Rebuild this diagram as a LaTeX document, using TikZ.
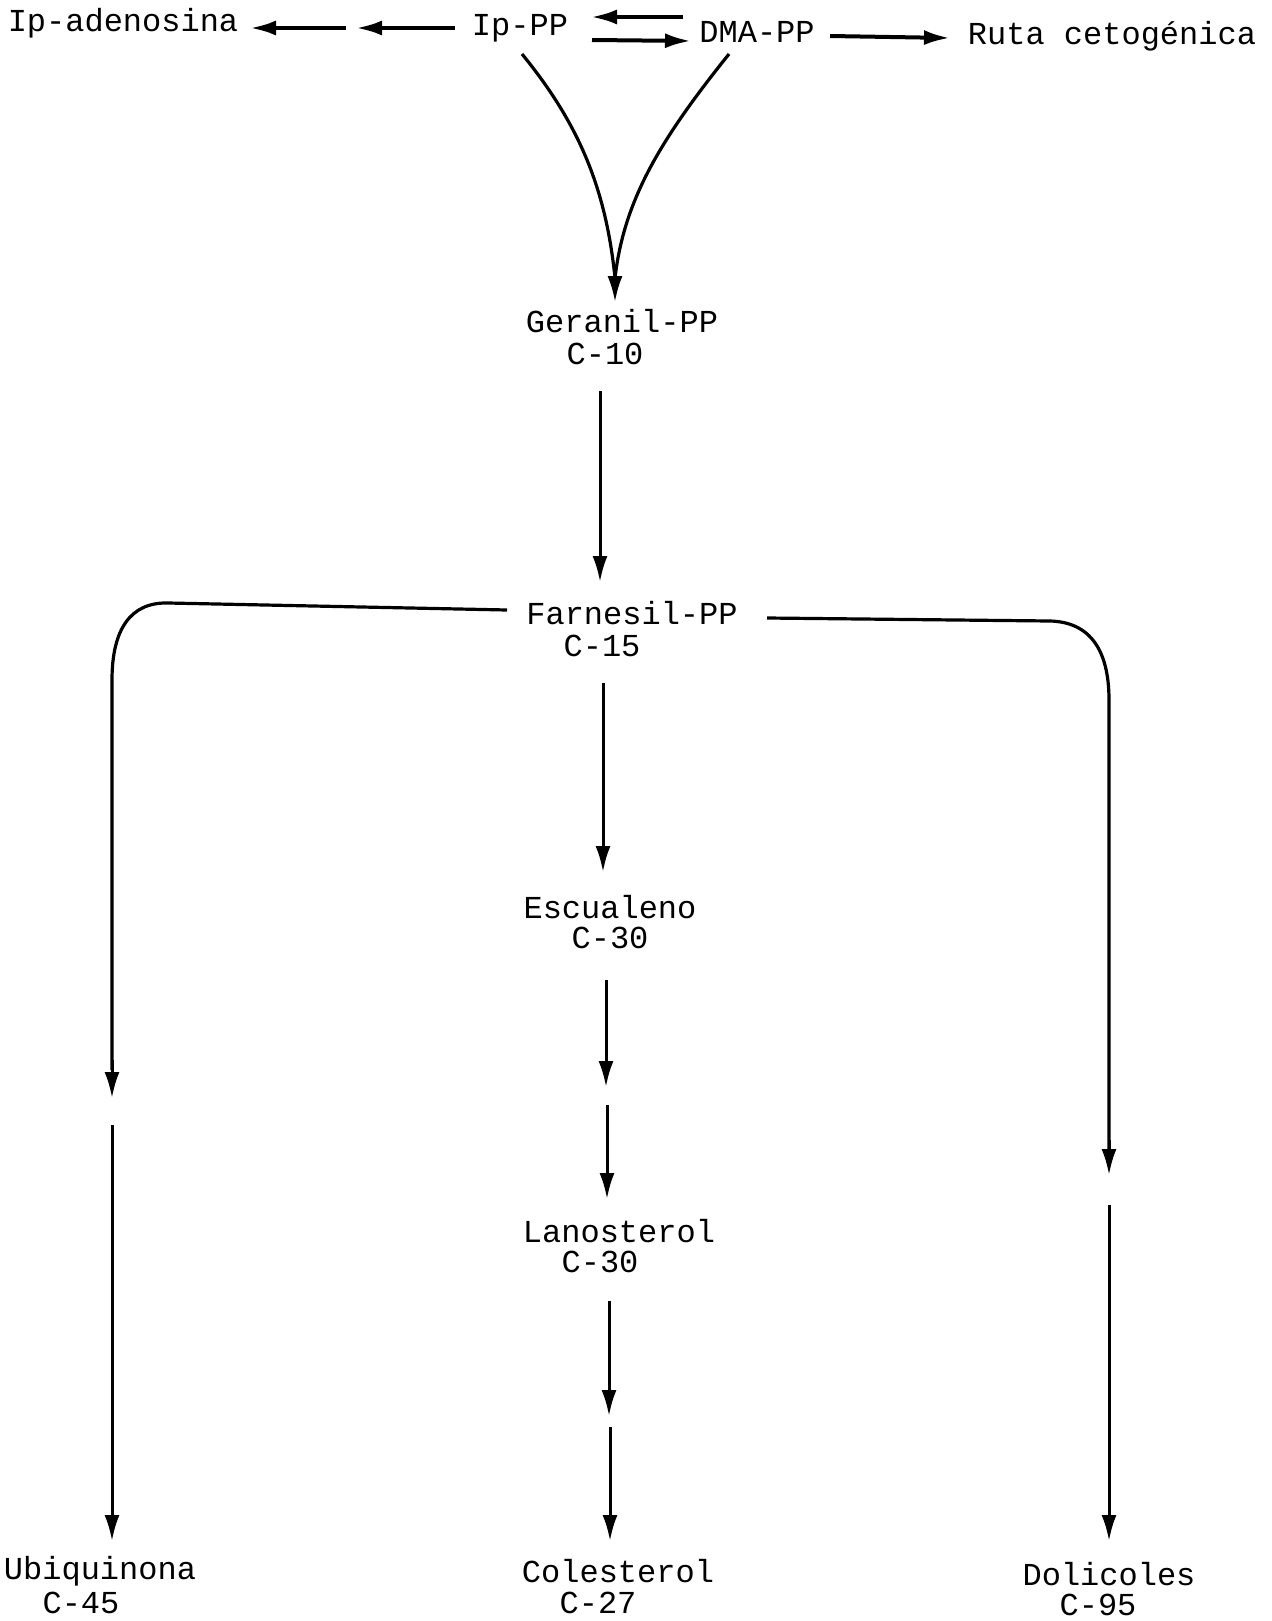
\documentclass[tikz,border=0pt]{standalone}
\usepackage{fontspec}
\setmonofont{Liberation Mono}
\usetikzlibrary{arrows.meta}
\begin{document}
\begin{tikzpicture}[x=0.5pt,y=-0.5pt,
  lbl/.style={font=\ttfamily\fontsize{16pt}{18pt}\selectfont, inner sep=1pt},
  arr/.style={line width=1.5pt, -{Latex[length=13pt,width=7.5pt]}},
  arrt/.style={line width=2pt, -{Latex[length=13pt,width=7.5pt]}},
  ln/.style={line width=1.6pt}]
\useasboundingbox (0,0) rectangle (1271,1621);
\fill[white] (0,0) rectangle (1271,1621);
% top row
\node[lbl] (ipad) at (123,23) {Ip-adenosina};
\node[lbl] (ippp) at (520,28) {Ip-PP};
\node[lbl] (dma) at (757,32) {DMA-PP};
\node[lbl] (ruta) at (1112,36) {Ruta cetogénica};
\coordinate (a1s) at (346,28); \coordinate (a1e) at (250,28);
\coordinate (a2s) at (455,28); \coordinate (a2e) at (356,28);
\draw[arrt] (a1s) -- (a1e);
\draw[arrt] (a2s) -- (a2e);
\coordinate (r1s) at (683,17); \coordinate (r1e) at (591,17);
\coordinate (r2s) at (592,40); \coordinate (r2e) at (691,41);
\draw[arrt] (r1s) -- (r1e);
\draw[arrt] (r2s) -- (r2e);
\coordinate (kts) at (830,36); \coordinate (kte) at (950,38);
\draw[arrt] (kts) -- (kte);
% convergence to geranil
\coordinate (cL) at (522,54); \coordinate (cR) at (729,54);
\coordinate (tip) at (615,302);
\draw[ln] (cL) .. controls (580,125) and (606,190) .. (615,278);
\draw[ln] (cR) .. controls (660,140) and (624,200) .. (615,278);
\draw[arr] (615,272) -- (tip);
% geranil
\node[lbl] (ger) at (622,321) {Geranil-PP};
\node[lbl] (gerc) at (605,354) {C-10};
\coordinate (g1) at (600,391); \coordinate (g2) at (600,582);
\draw[arr] (g1) -- (g2);
% farnesil
\node[lbl] (far) at (632,613) {Farnesil-PP};
\node[lbl] (farc) at (602,646) {C-15};
% left branch
\coordinate (lb0) at (507,610);
\coordinate (lb1) at (112,1098);
\coordinate (lb2) at (112,1125);
\coordinate (lb3) at (112,1541);
\draw[ln] (lb0) -- (168,603) .. controls (130,602) and (112,630) .. (112,680) -- (112,1070);
\draw[arr] (112,1060) -- (lb1);
\draw[arr] (lb2) -- (lb3);
% right branch
\coordinate (rb0) at (767,618);
\coordinate (rb1) at (1109,1175);
\coordinate (rb2) at (1109,1205);
\coordinate (rb3) at (1109,1541);
\draw[ln] (rb0) -- (1050,621) .. controls (1090,622) and (1109,650) .. (1109,700) -- (1109,1150);
\draw[arr] (1109,1140) -- (rb1);
\draw[arr] (rb2) -- (rb3);
% centre column
\coordinate (f1) at (603,683); \coordinate (f2) at (603,872);
\draw[arr] (f1) -- (f2);
\node[lbl] (esc) at (610,907) {Escualeno};
\node[lbl] (escc) at (610,938) {C-30};
\coordinate (e1) at (606,980); \coordinate (e2) at (606,1087);
\coordinate (e3) at (607,1105); \coordinate (e4) at (607,1199);
\draw[arr] (e1) -- (e2);
\draw[arr] (e3) -- (e4);
\node[lbl] (lan) at (619,1231) {Lanosterol};
\node[lbl] (lanc) at (600,1262) {C-30};
\coordinate (l1) at (609,1301); \coordinate (l2) at (609,1416);
\coordinate (l3) at (610,1427); \coordinate (l4) at (610,1541);
\draw[arr] (l1) -- (l2);
\draw[arr] (l3) -- (l4);
% bottom
\node[lbl] (ubi) at (100,1571) {Ubiquinona};
\node[lbl] (ubic) at (81,1603) {C-45};
\node[lbl] (col) at (618,1571) {Colesterol};
\node[lbl] (colc) at (598,1603) {C-27};
\node[lbl] (dol) at (1109,1574) {Dolicoles};
\node[lbl] (dolc) at (1098,1605) {C-95};
\end{tikzpicture}
\end{document}
